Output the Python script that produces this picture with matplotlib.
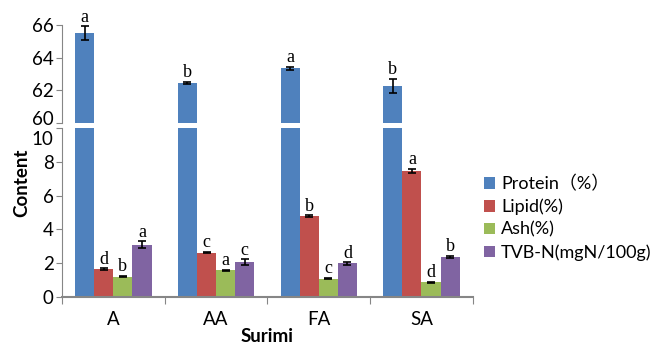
import matplotlib.pyplot as plt
import matplotlib.transforms as mtransforms
import numpy as np

plt.rcParams['font.family'] = ['Lato', 'Noto Sans CJK SC', 'DejaVu Sans']

# data
groups = ['A', 'AA', 'FA', 'SA']
series = ['Protein（%）', 'Lipid(%)', 'Ash(%)', 'TVB-N(mgN/100g)']
colors = ['#4F81BD', '#C0504D', '#9BBB59', '#8064A2']

protein = [65.5, 62.45, 63.35, 62.25]
lipid = [1.65, 2.62, 4.78, 7.48]
ash = [1.2, 1.57, 1.08, 0.86]
tvbn = [3.08, 2.05, 1.98, 2.37]

protein_err = [0.42, 0.08, 0.08, 0.45]
lipid_err = [0.04, 0.04, 0.04, 0.12]
ash_err = [0.03, 0.03, 0.03, 0.03]
tvbn_err = [0.2, 0.18, 0.07, 0.04]

protein_sig = ['a', 'b', 'a', 'b']
lipid_sig = ['d', 'c', 'b', 'a']
ash_sig = ['b', 'a', 'c', 'd']
tvbn_sig = ['a', 'c', 'd', 'b']

values = [protein, lipid, ash, tvbn]
errors = [protein_err, lipid_err, ash_err, tvbn_err]
letters = [protein_sig, lipid_sig, ash_sig, tvbn_sig]

fig = plt.figure(figsize=(6.53, 3.44), dpi=100)
ax_top = fig.add_axes([0.095, 0.643, 0.629, 0.284])
ax_bot = fig.add_axes([0.095, 0.137, 0.629, 0.491])

x = np.arange(len(groups))
w = 0.186
spine_col = '#868686'

for ax in (ax_top, ax_bot):
    for i in range(4):
        pos = x + (i - 1.5) * w
        ax.bar(pos, values[i], w, color=colors[i], label=series[i])
        ax.errorbar(pos, values[i], yerr=errors[i], fmt='none', ecolor='black',
                    elinewidth=1.2, capsize=3, capthick=1.2)
    ax.set_xlim(-0.5, 3.5)
    for s in ['top', 'right']:
        ax.spines[s].set_visible(False)
    ax.spines['left'].set_color(spine_col)
    ax.spines['bottom'].set_color(spine_col)
    ax.tick_params(axis='y', direction='out', color=spine_col, length=4, labelsize=13.5, pad=2)

ax_top.set_ylim(60, 66)
ax_top.set_yticks([60, 62, 64, 66])
ax_top.spines['bottom'].set_visible(False)
ax_top.set_xticks([])

ax_bot.set_ylim(0, 10)
ax_bot.set_yticks([0, 2, 4, 6, 8, 10])

# near the break the labels are pushed apart: "60" up a little, "10" down
lab60 = ax_top.get_yticklabels()[0]
lab60.set_transform(lab60.get_transform() +
                    mtransforms.ScaledTranslation(0, 0.05, fig.dpi_scale_trans))
lab10 = ax_bot.get_yticklabels()[-1]
lab10.set_transform(lab10.get_transform() +
                    mtransforms.ScaledTranslation(0, -0.1, fig.dpi_scale_trans))

ax_bot.set_xticks(np.arange(-0.5, 4, 1))
ax_bot.set_xticklabels([])
ax_bot.set_xticks(x, minor=True)
ax_bot.set_xticklabels(groups, minor=True, fontsize=13.5)
ax_bot.tick_params(axis='x', which='major', direction='out', color=spine_col, length=5)
ax_bot.tick_params(axis='x', which='minor', length=0, pad=10)
ax_bot.spines['bottom'].set_linewidth(1.5)

# significance letters
for i in range(4):
    pos = x + (i - 1.5) * w
    ax = ax_top if i == 0 else ax_bot
    for j in range(4):
        ax.annotate(letters[i][j], (pos[j], values[i][j] + errors[i][j]),
                    xytext=(0, 0.5), textcoords='offset points', ha='center', va='bottom',
                    fontsize=13, family='Liberation Serif', annotation_clip=False)

fig.text(0.034, 0.47, 'Content', rotation=90, fontsize=13.5, fontweight='bold', va='center', ha='center')
ax_bot.set_xlabel('Surimi', fontsize=13.5, fontweight='bold', labelpad=0)

handles, labels = ax_bot.get_legend_handles_labels()
fig.legend(handles, labels, loc='center left', bbox_to_anchor=(0.741, 0.366), frameon=False,
           fontsize=13, handlelength=0.6, handleheight=0.6, handletextpad=0.35, labelspacing=0.35,
           borderpad=0, borderaxespad=0)

fig.savefig('out.png', dpi=100)
